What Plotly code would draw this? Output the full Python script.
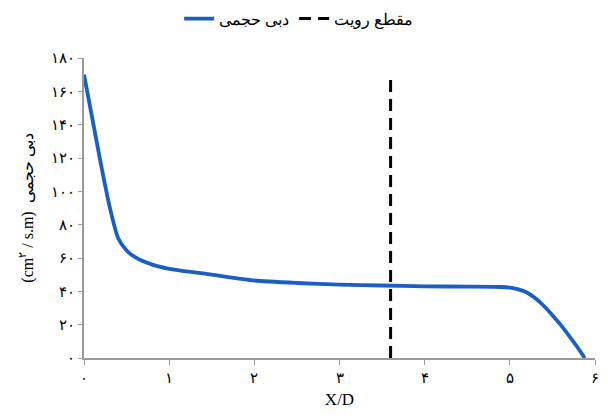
import plotly.graph_objects as go

# Data
x_over_d = [0.0, 0.1, 0.2, 0.3, 0.4, 0.5, 0.6, 0.8, 1.0, 1.5, 2.0, 2.5, 3.0, 3.5, 4.0, 4.5, 4.9, 5.0, 5.1, 5.2, 5.3, 5.4, 5.5, 5.6, 5.7, 5.8, 5.88]
flow_rate = [170, 143, 116, 91, 72, 64.5, 60.5, 56, 53.5, 50, 46.5, 45, 44, 43.5, 43, 42.8, 42.6, 42.2, 41.2, 39.3, 35.8, 31.2, 25.7, 19.7, 13, 6, 0]

section_x = [3.6, 3.6]
section_y = [0, 171]

x_tickvals = [0, 1, 2, 3, 4, 5, 6]
x_ticktext = ["۰", "۱", "۲", "۳", "۴", "۵", "۶"]
y_tickvals = [0, 20, 40, 60, 80, 100, 120, 140, 160, 180]
y_ticktext = ["۰", "۲۰", "۴۰", "۶۰", "۸۰", "۱۰۰", "۱۲۰", "۱۴۰", "۱۶۰", "۱۸۰"]

series_names = ["دبی حجمی", "مقطع رویت"]

fig = go.Figure()
fig.add_trace(go.Scatter(
    x=x_over_d, y=flow_rate, mode="lines", name=series_names[0],
    line=dict(color="#1c5fc4", width=3.8, shape="spline", smoothing=0.6),
))
fig.add_trace(go.Scatter(
    x=section_x, y=section_y, mode="lines", name=series_names[1],
    line=dict(color="black", width=3, dash="12px,7px"),
))

font_serif = "Liberation Serif, DejaVu Serif, serif"

fig.update_layout(
    width=608, height=416,
    margin=dict(l=84, r=9, t=58, b=58),
    paper_bgcolor="white", plot_bgcolor="white",
    font=dict(family=font_serif, color="black", size=14),
    showlegend=True,
    legend=dict(orientation="h", x=0.42, xanchor="center",
                yref="container", y=0.955, yanchor="middle",
                font=dict(size=16, family=font_serif), bgcolor="rgba(0,0,0,0)"),
    xaxis=dict(
        range=[0, 6], tickvals=x_tickvals, ticktext=x_ticktext,
        showline=True, linecolor="#9a9a9a", linewidth=1.5,
        ticks="outside", ticklen=5, tickcolor="#9a9a9a",
        showgrid=False, zeroline=False,
        tickfont=dict(size=15),
        title=dict(text="X/D", font=dict(size=17), standoff=8),
    ),
    yaxis=dict(
        range=[0, 180], tickvals=y_tickvals, ticktext=y_ticktext,
        showline=True, linecolor="#9a9a9a", linewidth=1.5,
        ticks="outside", ticklen=4, tickcolor="#9a9a9a",
        showgrid=False, zeroline=False,
        tickfont=dict(size=15),
        title=dict(text="(cm<sup>۲</sup> / s.m)  دبی حجمی", font=dict(size=16), standoff=14),
    ),
)

fig.write_html("out.html")
